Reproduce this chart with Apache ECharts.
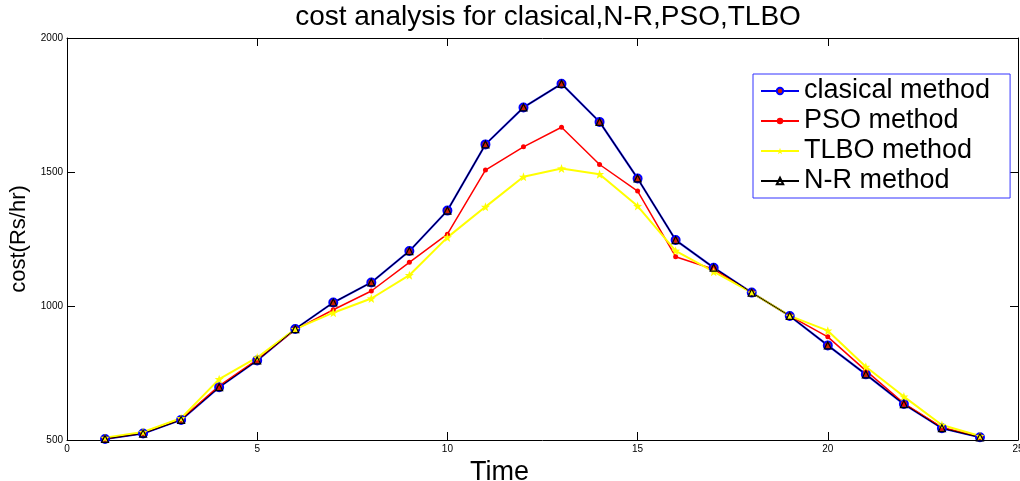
<!DOCTYPE html>
<html>
<head>
<meta charset="utf-8">
<script src="https://cdn.jsdelivr.net/npm/echarts@6/dist/echarts.min.js"></script>
<style>
  html, body { margin: 0; padding: 0; background: #fff; }
  #chart { width: 1020px; height: 481px; }
</style>
</head>
<body>
<div id="chart"></div>
<script>
// time steps (hours)
const times = [1, 2, 3, 4, 5, 6, 7, 8, 9, 10, 11, 12, 13, 14, 15, 16, 17, 18, 19, 20, 21, 22, 23, 24]

// cost values
const clasical = [504, 524, 575, 697, 797, 914, 1013, 1088, 1205, 1356, 1603, 1741, 1829, 1687, 1476, 1246, 1143, 1050, 963, 853, 745, 634, 544, 510]
const pso = [505, 526, 577, 702, 800, 912, 986, 1056, 1163, 1268, 1507, 1594, 1667, 1528, 1429, 1184, 1137, 1050, 963, 885, 759, 637, 547, 512]
const tlbo = [508, 530, 581, 727, 808, 914, 975, 1028, 1115, 1256, 1370, 1482, 1513, 1492, 1373, 1206, 1128, 1050, 963, 908, 773, 662, 556, 515]
const newtonRaphson = [504, 524, 575, 697, 797, 914, 1013, 1088, 1205, 1356, 1603, 1741, 1829, 1687, 1476, 1246, 1143, 1050, 963, 853, 745, 634, 544, 510]

const xTicks = [0, 5, 10, 15, 20, 25]
const yTicks = [500, 1000, 1500, 2000]

const FONT = '"Liberation Sans", Arial, sans-serif'
const STAR = 'path://M0,-10L2.4,-3.3L9.5,-3.1L3.9,1.3L5.9,8.1L0,4.1L-5.9,8.1L-3.9,1.3L-9.5,-3.1L-2.4,-3.3Z'

const pairs = arr => times.map((t, i) => [t, arr[i]])

const chart = echarts.init(document.getElementById('chart'), null, { renderer: 'canvas' })

const baseX = {
  type: 'value', min: xTicks[0], max: xTicks[xTicks.length - 1], interval: 5,
  splitLine: { show: false },
  axisLine: { show: true, onZero: false, lineStyle: { color: '#000', width: 1 } },
  axisTick: { show: true, inside: true, length: 8, lineStyle: { color: '#000' } }
}
const baseY = {
  type: 'value', min: yTicks[0], max: yTicks[yTicks.length - 1], interval: 500,
  splitLine: { show: false },
  axisLine: { show: true, onZero: false, lineStyle: { color: '#000', width: 1 } },
  axisTick: { show: true, inside: true, length: 8, lineStyle: { color: '#000' } }
}

chart.setOption({
  animation: false,
  backgroundColor: '#fff',
  textStyle: { fontFamily: FONT },
  title: {
    text: 'cost analysis for clasical,N-R,PSO,TLBO',
    left: 543, top: -2, textAlign: 'center',
    textStyle: { fontFamily: FONT, fontSize: 28, fontWeight: 'normal', color: '#000' }
  },
  grid: { left: 67, right: 2, top: 38, bottom: 41, outerBoundsMode: 'none' },
  legend: {
    orient: 'vertical',
    left: 753, top: 74,
    backgroundColor: '#fff',
    borderColor: '#3333ff', borderWidth: 1,
    padding: [3, 20, 3, 7],
    itemWidth: 38, itemHeight: 8, itemGap: 2,
    textStyle: { fontFamily: FONT, fontSize: 27, lineHeight: 28, color: '#000' },
    data: ['clasical method', 'PSO method', 'TLBO method', 'N-R method']
  },
  xAxis: [
    Object.assign({}, baseX, {
      position: 'bottom',
      name: 'Time', nameLocation: 'middle', nameGap: 11,
      nameTextStyle: { fontFamily: FONT, fontSize: 27, color: '#000', verticalAlign: 'top', padding: [0, 86, 0, 0] },
      axisLabel: { color: '#000', fontSize: 10, margin: 4, fontFamily: FONT }
    }),
    Object.assign({}, baseX, { position: 'top', axisLabel: { show: false } })
  ],
  yAxis: [
    Object.assign({}, baseY, {
      position: 'left',
      name: 'cost(Rs/hr)', nameLocation: 'middle', nameGap: 31,
      nameTextStyle: { fontFamily: FONT, fontSize: 22, color: '#000' },
      axisLabel: { color: '#000', fontSize: 10, margin: 4, fontFamily: FONT, formatter: v => String(v) }
    }),
    Object.assign({}, baseY, { position: 'right', axisLabel: { show: false } })
  ],
  series: [
    {
      name: 'clasical method', type: 'line', data: pairs(clasical),
      symbol: 'circle', symbolSize: 8, showAllSymbol: true,
      lineStyle: { color: '#0000ee', width: 2 },
      itemStyle: { color: '#cc2200', borderColor: '#0000ff', borderWidth: 2 }
    },
    {
      name: 'PSO method', type: 'line', data: pairs(pso),
      symbol: 'circle', symbolSize: 5,
      lineStyle: { color: '#ff0000', width: 1.5 },
      itemStyle: { color: '#ff0000', borderWidth: 0 }
    },
    {
      name: 'TLBO method', type: 'line', data: pairs(tlbo),
      symbol: STAR, symbolSize: 9,
      lineStyle: { color: '#ffff00', width: 2 },
      itemStyle: { color: '#ffff00', borderWidth: 0 }
    },
    {
      name: 'N-R method', type: 'line', data: pairs(newtonRaphson),
      symbol: 'triangle', symbolSize: 7,
      lineStyle: { color: '#000', width: 1 },
      itemStyle: { color: 'rgba(0,0,0,0)', borderColor: '#000', borderWidth: 1.2 }
    }
  ]
})
</script>
</body>
</html>
